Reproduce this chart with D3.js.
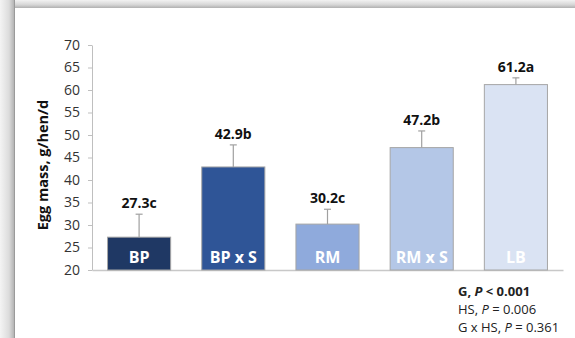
<!DOCTYPE html>
<html><head><meta charset="utf-8">
<script src="https://cdn.jsdelivr.net/npm/d3@7"></script>
<style>
html,body{margin:0;padding:0;background:#fff;}
svg{display:block;}
</style></head>
<body>
<svg id="chart" width="575" height="338"></svg>
<script>
const categories = ["BP", "BP x S", "RM", "RM x S", "LB"];
const means = [27.3, 42.9, 30.2, 47.2, 61.2];
const errors = [5.1, 4.9, 3.3, 3.7, 1.5];
const letters = ["c", "b", "c", "b", "a"];
const colors = ["#1f3864", "#2f5597", "#8faadc", "#b4c7e7", "#dae3f3"];
const yTicks = [20, 25, 30, 35, 40, 45, 50, 55, 60, 65, 70];
const stats = [
  {g: "G", p: "< 0.001", bold: true},
  {g: "HS", p: "= 0.006", bold: false},
  {g: "G x HS", p: "= 0.361", bold: false}
];

const svg = d3.select("#chart");
const defs = svg.append("defs");
const gl = defs.append("linearGradient").attr("id","gl").attr("x1","0").attr("x2","1").attr("y1","0").attr("y2","0");
gl.append("stop").attr("offset","0").attr("stop-color","#f4f4f4");
gl.append("stop").attr("offset","0.6").attr("stop-color","#dcdcdc");
gl.append("stop").attr("offset","0.9").attr("stop-color","#b8b8b8");
gl.append("stop").attr("offset","1").attr("stop-color","#8c8c8c");
const gt = defs.append("linearGradient").attr("id","gt").attr("x1","0").attr("x2","0").attr("y1","0").attr("y2","1");
gt.append("stop").attr("offset","0").attr("stop-color","#f2f2f2");
gt.append("stop").attr("offset","0.6").attr("stop-color","#d6d6d6");
gt.append("stop").attr("offset","1").attr("stop-color","#b0b0b0");

svg.append("rect").attr("x",0).attr("y",0).attr("width",575).attr("height",8).attr("fill","url(#gt)");
svg.append("rect").attr("x",0).attr("y",0).attr("width",15).attr("height",338).attr("fill","url(#gl)");

const y = d3.scaleLinear().domain([20,70]).range([270,45]);
const x = d3.scaleBand().domain(categories).range([92,563]).paddingInner(0.33).paddingOuter(0.165);

const font = "'Open Sans', sans-serif";

// y axis
const yAxis = svg.append("g").attr("transform","translate(92,0)")
  .call(d3.axisLeft(y).tickValues(yTicks).tickSize(4).tickSizeOuter(0).tickPadding(8));
yAxis.select(".domain").attr("stroke","#bfbfbf");
yAxis.selectAll(".tick line").attr("stroke","#bfbfbf");
yAxis.selectAll(".tick text").attr("font-family",font).attr("font-size","14px").attr("fill","#333");

// x axis
const xAxis = svg.append("g").attr("transform","translate(0,270)")
  .call(d3.axisBottom(x).tickSize(0).tickSizeOuter(0).tickFormat(""));
xAxis.select(".domain").attr("stroke","#c8c8c8").attr("stroke-width",1.5);

// bars
const bars = svg.append("g");
categories.forEach((c,i) => {
  const bx = x(c), bw = x.bandwidth(), cx = bx + bw/2;
  bars.append("rect").attr("x",bx).attr("y",y(means[i])).attr("width",bw)
    .attr("height",y(20)-y(means[i])).attr("fill",colors[i]).attr("stroke","#a6a6a6").attr("stroke-width",1);
  const top = y(means[i]+errors[i]);
  bars.append("line").attr("x1",cx).attr("x2",cx).attr("y1",y(means[i])).attr("y2",top).attr("stroke","#a0a0a0").attr("stroke-width",1.2);
  bars.append("line").attr("x1",cx-3.5).attr("x2",cx+3.5).attr("y1",top).attr("y2",top).attr("stroke","#a0a0a0").attr("stroke-width",1.2);
  bars.append("text").attr("x",cx).attr("y",top-6).attr("text-anchor","middle")
    .attr("font-family",font).attr("font-weight","bold").attr("font-size","14px").attr("fill","#111")
    .text(means[i].toFixed(1)+letters[i]);
  bars.append("text").attr("x",cx).attr("y",y(20)-7).attr("text-anchor","middle")
    .attr("font-family",font).attr("font-weight","bold").attr("font-size","16px").attr("fill","#fff")
    .text(c);
});

// y title
svg.append("text").attr("transform","translate(48,165) rotate(-90)").attr("text-anchor","middle")
  .attr("font-family",font).attr("font-weight","bold").attr("font-size","14.5px").attr("fill","#111")
  .text("Egg mass, g/hen/d");

// stats
stats.forEach((s,i) => {
  const t = svg.append("text").attr("x",458).attr("y",296+i*18)
    .attr("font-family",font).attr("font-size","13px").attr("fill","#222")
    .attr("font-weight", s.bold ? "bold" : "normal");
  t.append("tspan").text(s.g + ", ");
  t.append("tspan").attr("font-style","italic").text("P");
  t.append("tspan").text(" " + s.p);
});
</script>
</body></html>
